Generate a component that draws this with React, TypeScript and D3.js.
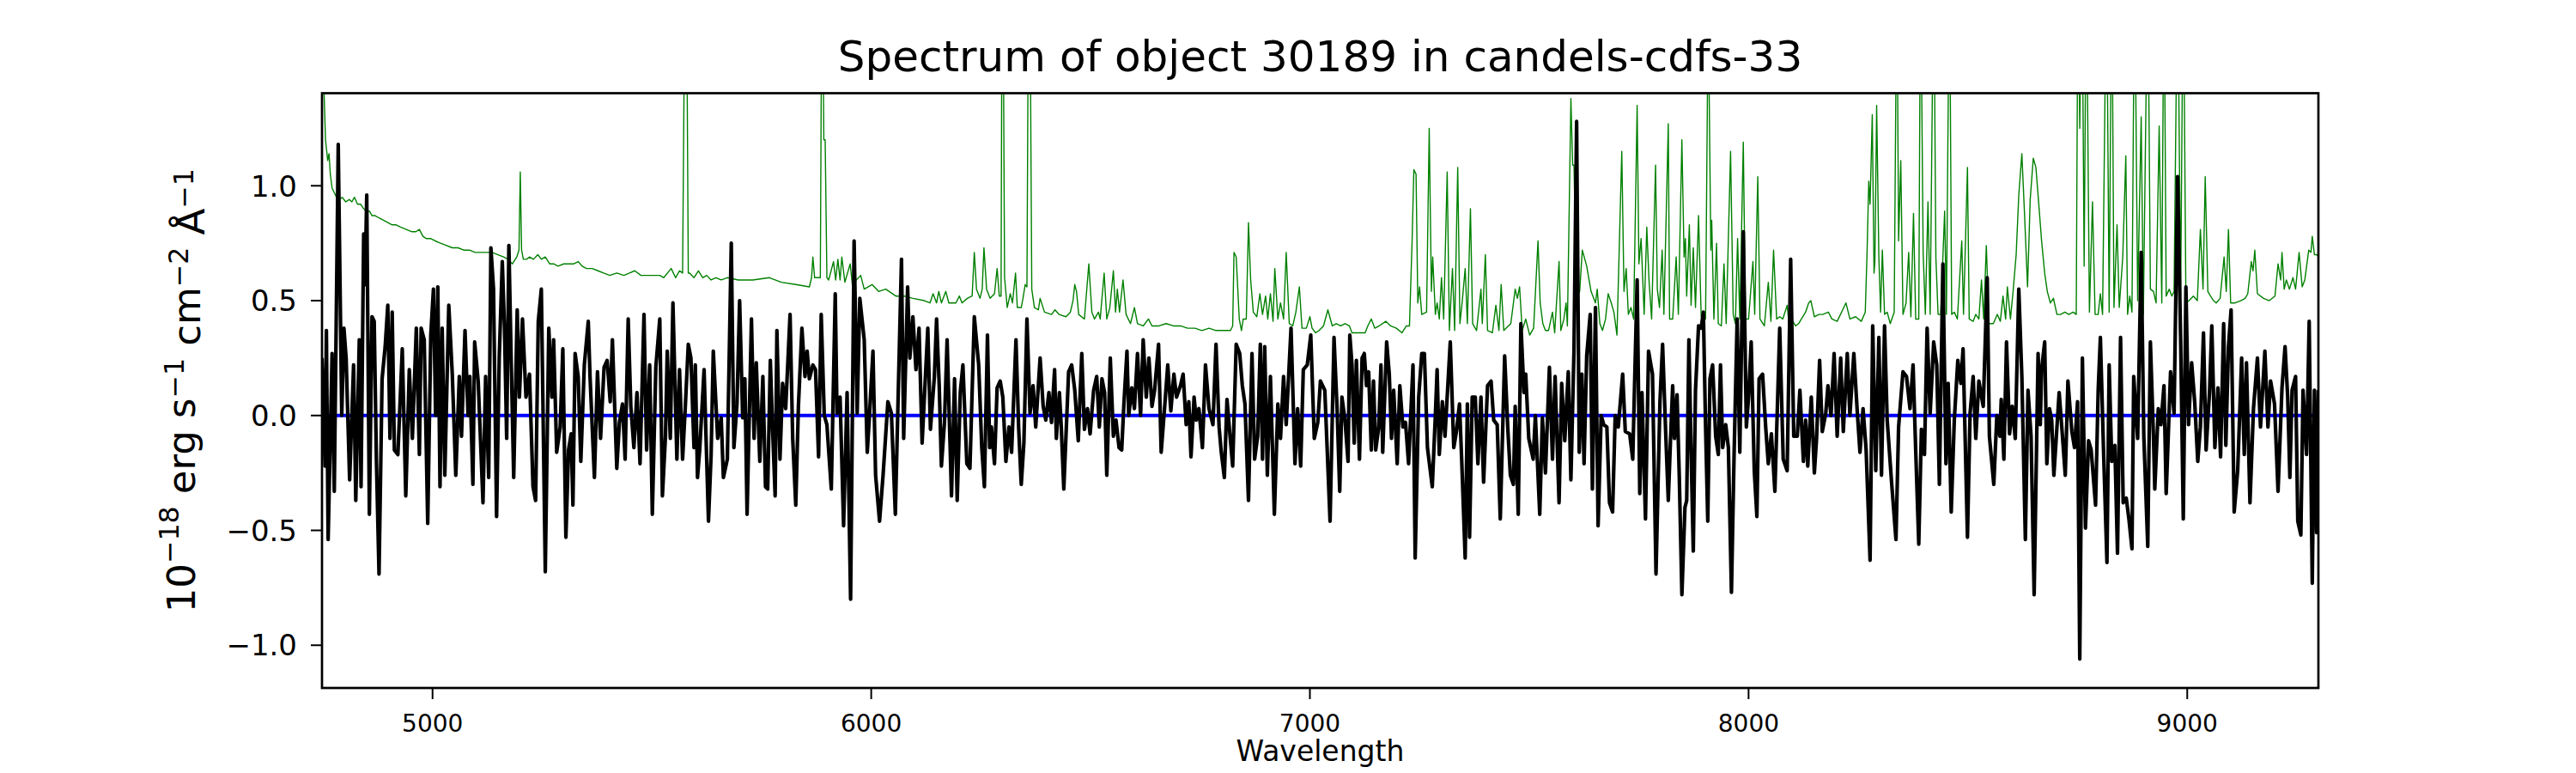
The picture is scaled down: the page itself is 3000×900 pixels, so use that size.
import * as d3 from "d3";

type Pt = [number, number];

const title = "Spectrum of object 30189 in candels-cdfs-33";
const xLabel = "Wavelength";
const xTicks = [5000, 6000, 7000, 8000, 9000];
const yTicks = [-1.0, -0.5, 0.0, 0.5, 1.0];
const xDomain = [4748, 9299];
const yDomain = [-1.186, 1.403];

// object flux, [wavelength, 1e-18 erg/s/cm2/A]
const fluxA: Pt[] = [
  [4748, 0.25], [4755, -0.22], [4758, 0.37], [4762, -0.54], [4771, 0.27], [4776, -0.33], [4785, 1.18], [4793, 0.0],
  [4798, 0.38], [4803, 0.25], [4811, -0.28], [4820, 0.22], [4825, -0.37], [4833, 0.33], [4837, -0.31], [4843, 0.79],
  [4846, 0.57], [4850, 0.96], [4856, -0.43], [4862, 0.43], [4867, 0.41], [4872, -0.19], [4878, -0.69], [4885, 0.16],
  [4892, 0.3], [4898, 0.48], [4903, -0.1], [4908, 0.45], [4913, -0.15], [4921, -0.17], [4931, 0.29], [4939, -0.35],
  [4947, 0.2], [4954, -0.1], [4963, 0.38], [4970, -0.17], [4974, 0.38], [4981, 0.33], [4989, -0.47], [4996, 0.35],
  [5002, 0.55], [5007, 0.0], [5012, 0.56], [5017, -0.31], [5022, 0.38], [5028, -0.26], [5037, 0.48], [5045, 0.18],
  [5053, -0.26], [5061, 0.17], [5066, -0.09], [5074, 0.37], [5081, 0.0], [5085, 0.17], [5092, -0.3], [5096, 0.32],
  [5104, 0.15], [5115, -0.38], [5121, 0.17], [5128, -0.27], [5133, 0.73], [5139, 0.55], [5146, -0.44], [5152, 0.25],
  [5159, 0.67], [5164, 0.38], [5169, -0.1], [5174, 0.74], [5179, 0.27], [5185, -0.27], [5193, 0.46], [5198, 0.08],
  [5205, 0.42], [5213, 0.08], [5221, 0.18], [5229, -0.31], [5235, -0.37], [5241, 0.41], [5248, 0.55], [5257, -0.68],
  [5265, 0.38], [5272, 0.08], [5276, 0.33], [5283, -0.16], [5291, -0.05], [5297, 0.29], [5304, -0.53], [5310, -0.15],
  [5316, -0.08], [5320, -0.39], [5325, 0.27], [5332, 0.17], [5338, -0.2], [5346, 0.22], [5355, 0.41], [5359, 0.17],
  [5369, -0.27], [5376, 0.19], [5383, -0.1], [5391, 0.21], [5398, 0.24], [5405, 0.06], [5410, 0.33], [5420, -0.23],
  [5426, -0.03], [5433, 0.05], [5439, -0.19], [5446, 0.42], [5452, 0.04], [5459, -0.14], [5466, 0.1], [5473, -0.21],
  [5482, 0.44], [5488, -0.15], [5495, 0.22], [5501, -0.43], [5509, 0.21], [5518, 0.42],
];

const fluxB: Pt[] = [
  [5524, -0.35], [5531, -0.09], [5535, 0.28], [5542, -0.1], [5548, 0.49], [5557, -0.19], [5563, 0.2], [5570, -0.19],
  [5576, 0.03], [5583, 0.31], [5589, 0.25], [5596, -0.14], [5599, 0.22], [5604, -0.27], [5609, -0.15], [5619, 0.2],
  [5629, -0.46], [5635, -0.17], [5640, 0.28], [5650, -0.1], [5658, -0.01], [5663, -0.27], [5672, -0.19], [5681, 0.75],
  [5687, -0.14], [5694, 0.05], [5700, 0.5], [5707, -0.01], [5712, 0.16], [5717, -0.43], [5727, 0.42], [5733, -0.1],
  [5738, 0.23], [5746, -0.2], [5753, 0.17], [5759, -0.31], [5764, -0.32], [5770, 0.24], [5775, -0.05], [5781, -0.35],
  [5785, 0.37], [5792, -0.19], [5798, 0.14], [5805, 0.03], [5815, 0.44], [5821, -0.1], [5828, -0.39], [5834, 0.04],
  [5842, 0.38], [5849, 0.17], [5854, 0.28], [5859, 0.16], [5867, 0.22], [5873, 0.2], [5880, -0.18], [5886, 0.44],
  [5893, 0.0], [5899, -0.04], [5909, -0.32], [5918, 0.53], [5922, 0.01], [5929, 0.08], [5937, -0.48], [5945, 0.1],
  [5953, -0.8], [5961, 0.76], [5968, 0.01], [5974, 0.51], [5984, 0.33], [5991, -0.16], [5996, 0.0], [6004, 0.28],
  [6010, -0.26], [6019, -0.46], [6027, -0.26], [6038, 0.06], [6046, 0.01], [6055, -0.43], [6061, 0.05], [6069, 0.68],
  [6074, -0.1], [6083, 0.56], [6088, 0.25], [6095, 0.43], [6102, 0.2], [6109, 0.38], [6116, -0.12], [6122, 0.11],
  [6129, 0.38], [6135, -0.06], [6144, 0.17], [6149, 0.42], [6155, 0.13], [6160, -0.22], [6167, -0.03], [6173, 0.33],
  [6183, -0.35], [6190, 0.16], [6196, -0.37], [6203, 0.1], [6209, 0.22], [6218, -0.21], [6225, -0.23], [6235, 0.43],
  [6245, 0.22], [6252, -0.14], [6258, -0.31],
];

const fluxC: Pt[] = [
  [6265, 0.35], [6270, -0.14], [6274, -0.05], [6281, -0.21], [6287, 0.12], [6294, 0.15], [6300, 0.08], [6307, -0.2],
  [6314, -0.05], [6320, -0.16], [6330, 0.33], [6336, -0.05], [6342, -0.3], [6348, -0.12], [6355, 0.42], [6362, 0.01],
  [6369, 0.13], [6375, -0.05], [6385, 0.25], [6392, 0.04], [6398, -0.02], [6405, 0.1], [6411, -0.03], [6418, 0.2],
  [6422, -0.1], [6429, 0.1], [6433, -0.04], [6439, -0.32], [6450, 0.19], [6457, 0.22], [6464, 0.11], [6472, -0.11],
  [6480, 0.27], [6486, -0.06], [6493, 0.03], [6499, -0.08], [6507, 0.11], [6514, 0.17], [6520, -0.05], [6526, 0.16],
  [6532, 0.1], [6537, -0.26], [6545, 0.25], [6552, -0.09], [6558, -0.02], [6565, -0.14], [6571, -0.15], [6576, 0.05],
  [6583, 0.28], [6587, 0.0], [6594, 0.12], [6600, 0.03], [6607, 0.27], [6614, 0.0], [6620, 0.33], [6627, 0.08],
  [6633, 0.25], [6640, 0.04], [6646, 0.11], [6655, 0.31], [6661, -0.16], [6669, 0.04], [6676, 0.22], [6683, 0.02],
  [6690, 0.18], [6696, 0.08], [6705, 0.13], [6711, 0.18], [6718, -0.04], [6724, 0.06], [6729, -0.18], [6736, 0.08],
  [6741, -0.02], [6747, 0.03], [6755, -0.14], [6762, 0.22], [6770, 0.03], [6779, -0.04], [6786, 0.31], [6793, -0.05],
  [6798, -0.16], [6805, -0.27], [6811, 0.07], [6818, -0.09], [6824, -0.22], [6832, 0.31], [6840, 0.27], [6846, 0.13],
  [6852, 0.05], [6860, -0.37], [6868, 0.27], [6874, -0.19], [6881, -0.09], [6887, 0.31], [6892, -0.19], [6897, 0.3],
  [6903, -0.26], [6910, 0.17], [6919, -0.43], [6927, 0.05], [6933, -0.1], [6940, 0.17], [6946, -0.04], [6957, 0.38],
  [6966, -0.21], [6972, 0.03], [6979, -0.22], [6985, 0.2], [6994, 0.22], [7002, 0.35], [7010, -0.1], [7018, -0.03],
  [7024, 0.15], [7034, 0.11],
];

const fluxD: Pt[] = [
  [7046, -0.46], [7055, 0.34], [7062, 0.03], [7068, -0.33], [7073, 0.08], [7080, -0.02], [7087, -0.2], [7091, 0.35],
  [7096, 0.22], [7101, -0.12], [7106, 0.24], [7113, -0.19], [7119, 0.25], [7124, 0.27], [7129, 0.13], [7134, 0.19],
  [7140, -0.15], [7145, 0.15], [7150, -0.15], [7157, -0.05], [7162, 0.22], [7166, -0.16], [7175, 0.32], [7181, 0.18],
  [7186, -0.1], [7191, 0.11], [7199, -0.21], [7205, 0.13], [7212, -0.05], [7218, -0.03], [7225, -0.21], [7235, 0.22],
  [7240, -0.62], [7248, 0.08], [7255, 0.27], [7261, 0.27], [7268, -0.14], [7279, -0.31], [7286, 0.0], [7290, 0.2],
  [7295, -0.17], [7302, 0.06], [7308, -0.09], [7320, 0.32], [7328, -0.14], [7334, -0.07], [7341, 0.05], [7346, -0.19],
  [7354, -0.62], [7359, 0.05], [7364, -0.53], [7370, 0.08], [7377, 0.08], [7383, -0.21], [7390, 0.08], [7396, -0.29],
  [7405, 0.13], [7413, 0.15], [7419, -0.02], [7427, -0.04], [7434, -0.45], [7444, 0.26], [7451, -0.05], [7457, -0.26],
  [7464, -0.3], [7468, 0.04], [7475, -0.43], [7481, 0.4], [7488, 0.1], [7492, 0.18], [7499, -0.1], [7509, -0.19],
  [7514, 0.0], [7524, -0.43], [7530, -0.01], [7537, -0.25], [7546, 0.21], [7553, -0.19], [7559, 0.17], [7568, -0.38],
  [7574, 0.14], [7581, -0.11], [7589, 0.19], [7595, -0.28], [7602, 0.28], [7608, 1.28], [7614, -0.16], [7620, 0.18],
  [7625, -0.21], [7631, 0.26], [7639, 0.44], [7644, -0.32], [7651, 0.47], [7657, -0.48], [7664, 0.0], [7670, -0.04],
  [7677, -0.05], [7683, -0.38], [7690, -0.42], [7696, 0.0], [7703, -0.05], [7713, 0.18], [7719, -0.07], [7729, -0.08],
  [7736, -0.19], [7746, 0.59], [7752, -0.34], [7757, 0.1], [7765, -0.45], [7772, 0.28], [7781, 0.18], [7789, -0.69],
];

const fluxE: Pt[] = [
  [7798, 0.06], [7804, 0.31], [7811, -0.07], [7817, -0.37], [7822, -0.11], [7827, 0.13], [7831, -0.1], [7837, 0.09],
  [7842, -0.26], [7848, -0.78], [7855, -0.4], [7859, -0.37], [7864, 0.33], [7869, -0.16], [7874, -0.59], [7879, 0.11],
  [7886, 0.39], [7892, 0.38], [7897, 0.45], [7902, -0.05], [7907, -0.46], [7912, 0.16], [7918, 0.22], [7925, -0.09],
  [7931, -0.17], [7936, 0.22], [7941, -0.14], [7948, -0.04], [7954, -0.14], [7961, -0.77], [7967, -0.17], [7974, 0.42],
  [7980, -0.16], [7988, 0.8], [7995, -0.05], [8000, 0.08], [8006, 0.32], [8013, -0.24], [8019, -0.44], [8024, 0.16],
  [8032, 0.18], [8039, -0.05], [8045, -0.21], [8052, -0.08], [8060, -0.33], [8071, 0.38], [8079, -0.19], [8088, -0.24],
  [8096, 0.68], [8103, -0.09], [8111, -0.09], [8117, 0.11], [8125, -0.2], [8130, -0.02], [8135, -0.22], [8143, 0.08],
  [8150, -0.25], [8155, -0.1], [8162, 0.24], [8168, -0.07], [8176, 0.01], [8181, 0.13], [8188, 0.0], [8195, 0.27],
  [8202, -0.09], [8210, 0.25], [8216, -0.07], [8225, 0.27], [8231, 0.0], [8240, 0.27], [8248, 0.01], [8254, -0.16],
  [8261, 0.03], [8268, -0.15], [8277, -0.63], [8283, 0.39], [8290, -0.24], [8297, 0.34], [8303, -0.26], [8310, 0.39],
  [8316, -0.02], [8326, -0.29], [8336, -0.54], [8342, -0.05], [8352, 0.19], [8360, 0.17], [8368, 0.03], [8375, 0.22],
  [8381, -0.15], [8388, -0.56], [8394, -0.06], [8401, -0.17], [8407, 0.38], [8414, 0.01], [8422, 0.32], [8429, 0.22],
  [8435, -0.3], [8443, 0.66], [8450, -0.21], [8455, 0.14], [8462, -0.42], [8469, -0.02], [8477, 0.24], [8484, 0.14],
  [8489, 0.29], [8499, -0.53], [8505, 0.01], [8512, 0.17], [8518, -0.1], [8525, 0.15], [8535, 0.04],
];

const fluxF: Pt[] = [
  [8544, 0.6], [8549, -0.09], [8559, -0.3], [8566, 0.0], [8573, -0.09], [8576, 0.07], [8582, -0.19], [8588, 0.32],
  [8595, -0.08], [8601, 0.04], [8608, -0.1], [8616, 0.55], [8623, 0.17], [8631, -0.54], [8637, 0.11], [8644, -0.09],
  [8651, -0.78], [8660, 0.27], [8665, -0.04], [8668, 0.2], [8675, 0.32], [8680, -0.21], [8686, 0.03], [8691, -0.02],
  [8696, -0.26], [8703, -0.05], [8708, 0.1], [8714, -0.05], [8722, -0.26], [8728, 0.15], [8737, -0.07], [8743, -0.14],
  [8750, 0.06], [8755, -1.06], [8761, 0.25], [8768, -0.49], [8775, -0.11], [8781, -0.15], [8791, -0.39], [8797, 0.11],
  [8802, 0.34], [8809, -0.14], [8817, -0.64], [8822, 0.22], [8828, -0.2], [8835, -0.13], [8841, -0.6], [8848, 0.34],
  [8854, -0.38], [8861, -0.36], [8867, -0.45], [8874, -0.58], [8878, 0.17], [8887, -0.1], [8895, 0.71], [8901, -0.09],
  [8910, -0.57], [8916, 0.32], [8923, -0.09], [8926, -0.32], [8934, 0.03], [8940, -0.04], [8947, 0.13], [8952, -0.34],
  [8962, 0.19], [8970, 0.01], [8978, 1.04], [8985, 0.33], [8991, -0.45], [8997, 0.56], [9003, -0.04], [9010, 0.23],
  [9017, 0.06], [9024, -0.2], [9030, -0.05], [9037, 0.36], [9043, -0.15], [9051, 0.11], [9056, 0.39], [9063, -0.14],
  [9070, 0.12], [9076, -0.18], [9083, 0.4], [9088, -0.13], [9094, 0.3], [9100, 0.46], [9107, -0.42], [9115, -0.24],
  [9124, 0.25], [9130, -0.17], [9135, 0.23], [9143, -0.38], [9151, 0.03], [9160, 0.25], [9167, -0.05], [9177, 0.28],
  [9184, -0.05], [9190, 0.15], [9199, 0.05], [9207, -0.33], [9216, 0.12], [9223, 0.3], [9229, 0.08], [9234, -0.27],
  [9239, 0.11], [9247, 0.17], [9252, -0.46], [9259, -0.52], [9264, 0.11], [9272, -0.17], [9278, 0.41], [9285, -0.73],
  [9290, 0.11], [9295, -0.51], [9299, 0.11],
];

// noise / sky spectrum, same units
const noiseA: Pt[] = [
  [4749, 1.7], [4752, 1.45], [4756, 1.2], [4761, 1.11], [4764, 1.14], [4767, 1.05], [4771, 0.99], [4781, 0.95],
  [4788, 0.94], [4794, 0.95], [4802, 0.93], [4810, 0.94], [4816, 0.93], [4822, 0.95], [4829, 0.92], [4836, 0.92],
  [4843, 0.9], [4849, 0.89], [4856, 0.89], [4862, 0.87], [4869, 0.87], [4878, 0.86], [4888, 0.85], [4898, 0.84],
  [4908, 0.83], [4917, 0.83], [4927, 0.82], [4940, 0.81], [4953, 0.8], [4962, 0.8], [4970, 0.81], [4978, 0.78],
  [4986, 0.77], [4996, 0.77], [5006, 0.76], [5018, 0.75], [5032, 0.74], [5045, 0.73], [5058, 0.73], [5071, 0.72],
  [5084, 0.72], [5097, 0.71], [5110, 0.71], [5123, 0.71], [5136, 0.71], [5149, 0.7], [5162, 0.69], [5172, 0.68],
  [5182, 0.66], [5192, 0.69], [5197, 0.72], [5200, 1.06], [5203, 0.72], [5207, 0.68], [5214, 0.68], [5221, 0.69],
  [5230, 0.68], [5240, 0.7], [5248, 0.68], [5257, 0.69], [5267, 0.66], [5276, 0.66], [5286, 0.65], [5299, 0.66],
  [5312, 0.66], [5322, 0.66], [5332, 0.67], [5341, 0.65], [5351, 0.64], [5364, 0.64], [5377, 0.63], [5390, 0.62],
  [5404, 0.61], [5420, 0.62], [5436, 0.61], [5449, 0.62], [5461, 0.63], [5475, 0.61], [5488, 0.61], [5503, 0.61],
  [5518, 0.61],
];

const noiseB: Pt[] = [
  [5527, 0.6], [5544, 0.64], [5554, 0.6], [5563, 0.63], [5570, 0.62], [5574, 1.6], [5577, 3.0], [5580, 1.6],
  [5583, 0.62], [5586, 0.62], [5596, 0.6], [5606, 0.63], [5616, 0.6], [5625, 0.61], [5635, 0.59], [5646, 0.6],
  [5658, 0.59], [5672, 0.6], [5697, 0.59], [5730, 0.59], [5768, 0.6], [5795, 0.58], [5828, 0.57], [5859, 0.56],
  [5864, 0.6], [5867, 0.69], [5871, 0.6], [5877, 0.6], [5884, 0.6], [5888, 2.2], [5892, 1.2], [5895, 1.2],
  [5899, 0.6], [5903, 0.59], [5914, 0.67], [5919, 0.59], [5924, 0.68], [5929, 0.59], [5933, 0.69], [5940, 0.58],
  [5952, 0.66], [5957, 0.57], [5966, 0.59], [5976, 0.61], [5984, 0.55], [6002, 0.57], [6017, 0.54], [6033, 0.55],
  [6056, 0.52], [6075, 0.52], [6095, 0.51], [6121, 0.5], [6134, 0.49], [6141, 0.53], [6149, 0.49], [6154, 0.54],
  [6160, 0.49], [6170, 0.54], [6177, 0.49], [6193, 0.49], [6201, 0.52], [6207, 0.49], [6219, 0.51], [6230, 0.52],
  [6235, 0.71], [6240, 0.55], [6248, 0.51], [6253, 0.55], [6257, 0.73], [6263, 0.55], [6271, 0.51], [6281, 0.53],
];

const noiseC: Pt[] = [
  [6287, 0.64], [6292, 0.52], [6296, 0.52], [6299, 2.5], [6304, 0.6], [6310, 0.47], [6317, 0.53], [6322, 0.49],
  [6329, 0.62], [6333, 0.47], [6342, 0.47], [6346, 0.51], [6351, 0.57], [6355, 0.56], [6360, 2.5], [6366, 0.55],
  [6372, 0.47], [6381, 0.46], [6385, 0.51], [6395, 0.45], [6411, 0.44], [6419, 0.46], [6428, 0.44], [6444, 0.43],
  [6454, 0.45], [6460, 0.5], [6464, 0.57], [6468, 0.54], [6473, 0.44], [6486, 0.42], [6496, 0.66], [6503, 0.45],
  [6509, 0.42], [6518, 0.45], [6522, 0.42], [6531, 0.62], [6537, 0.42], [6544, 0.47], [6552, 0.63], [6557, 0.45],
  [6561, 0.55], [6566, 0.45], [6574, 0.59], [6581, 0.44], [6591, 0.4], [6600, 0.47], [6607, 0.4], [6620, 0.39],
  [6632, 0.42], [6640, 0.39], [6656, 0.39], [6672, 0.4], [6689, 0.39], [6705, 0.39], [6721, 0.38], [6738, 0.38],
  [6754, 0.37], [6770, 0.38], [6786, 0.37], [6802, 0.37], [6819, 0.37], [6824, 0.39], [6827, 0.71], [6832, 0.69],
  [6839, 0.42], [6844, 0.37], [6848, 0.42], [6855, 0.42], [6860, 0.84], [6865, 0.59], [6871, 0.45], [6879, 0.43],
  [6886, 0.53], [6892, 0.44], [6899, 0.52], [6904, 0.42], [6910, 0.53], [6916, 0.41], [6920, 0.64], [6927, 0.42],
  [6933, 0.49], [6940, 0.42], [6946, 0.71], [6953, 0.4], [6961, 0.39], [6968, 0.45], [6976, 0.56], [6982, 0.38],
  [6992, 0.38], [7000, 0.43], [7005, 0.38], [7013, 0.36], [7021, 0.37], [7031, 0.39], [7041, 0.46],
];

const noiseD: Pt[] = [
  [7051, 0.39], [7060, 0.4], [7070, 0.39], [7080, 0.4], [7090, 0.39], [7096, 0.36], [7111, 0.36], [7126, 0.36],
  [7132, 0.39], [7140, 0.42], [7148, 0.38], [7158, 0.39], [7173, 0.41], [7184, 0.39], [7197, 0.38], [7210, 0.36],
  [7220, 0.39], [7227, 0.39], [7233, 0.76], [7237, 1.07], [7242, 1.05], [7246, 0.49], [7250, 0.56], [7255, 0.44],
  [7266, 0.45], [7272, 1.25], [7277, 0.54], [7280, 0.69], [7286, 0.44], [7290, 0.49], [7295, 0.42], [7300, 0.6],
  [7305, 0.42], [7313, 1.06], [7318, 0.37], [7325, 0.64], [7330, 0.37], [7337, 1.08], [7342, 0.4], [7347, 0.49],
  [7354, 0.64], [7359, 0.4], [7366, 0.9], [7371, 0.4], [7380, 0.37], [7390, 0.55], [7393, 0.4], [7400, 0.7],
  [7405, 0.37], [7416, 0.36], [7424, 0.48], [7431, 0.37], [7436, 0.57], [7442, 0.37], [7458, 0.4], [7468, 0.55],
  [7473, 0.51], [7478, 0.56], [7484, 0.37], [7492, 0.42], [7501, 0.35], [7510, 0.38], [7520, 0.76], [7525, 0.49],
  [7531, 0.4], [7537, 0.37], [7544, 0.37], [7553, 0.45], [7558, 0.36], [7568, 0.67], [7572, 0.37], [7579, 0.42],
  [7584, 0.49], [7587, 0.39], [7595, 1.38], [7599, 1.09], [7602, 1.09], [7608, 0.52], [7615, 0.54], [7621, 0.72],
  [7631, 0.65], [7641, 0.54], [7651, 0.49], [7655, 0.55], [7661, 0.4], [7667, 0.37], [7674, 0.42], [7680, 0.53],
  [7687, 0.49], [7693, 0.45], [7700, 0.35], [7711, 1.15], [7716, 0.54], [7721, 0.64], [7726, 0.44], [7732, 0.47],
  [7738, 0.42], [7746, 1.35], [7750, 0.66], [7755, 0.77], [7762, 0.44], [7768, 0.82], [7773, 0.59], [7779, 0.42],
  [7788, 1.09], [7792, 0.55], [7797, 0.47], [7803, 0.72], [7807, 0.44],
];

const noiseE: Pt[] = [
  [7817, 1.27], [7820, 0.42], [7827, 0.42], [7835, 0.69], [7840, 0.44], [7848, 1.2], [7853, 0.69], [7856, 0.77],
  [7859, 0.52], [7865, 0.83], [7869, 0.48], [7874, 0.73], [7879, 0.47], [7886, 0.87], [7892, 0.43], [7902, 0.42],
  [7908, 1.8], [7914, 0.72], [7916, 0.85], [7921, 0.42], [7927, 0.75], [7931, 0.4], [7938, 0.39], [7944, 0.66],
  [7949, 0.4], [7959, 1.15], [7965, 0.44], [7970, 0.4], [7975, 0.77], [7980, 0.42], [7988, 1.19], [7993, 0.42],
  [8000, 0.42], [8010, 0.67], [8014, 0.44], [8021, 1.04], [8026, 0.42], [8036, 0.39], [8045, 0.58], [8051, 0.41],
  [8057, 0.72], [8064, 0.42], [8071, 0.43], [8078, 0.42], [8088, 0.48], [8092, 0.4], [8098, 0.42], [8107, 0.39],
  [8114, 0.4], [8130, 0.45], [8137, 0.49], [8142, 0.5], [8150, 0.43], [8160, 0.44], [8169, 0.44], [8182, 0.45],
  [8190, 0.42], [8202, 0.41], [8222, 0.49], [8231, 0.42], [8244, 0.43], [8257, 0.41], [8266, 0.45], [8270, 0.7],
  [8274, 1.02], [8277, 0.92], [8282, 1.31], [8286, 0.62], [8288, 0.67], [8292, 1.35], [8297, 0.69], [8301, 0.45],
  [8305, 0.72], [8310, 0.44], [8316, 0.45], [8323, 0.4], [8332, 0.45], [8338, 2.0], [8342, 0.76], [8347, 1.11],
  [8352, 0.44], [8359, 0.49], [8365, 0.71], [8370, 0.43], [8376, 0.88], [8381, 0.42], [8388, 0.42], [8392, 2.0],
  [8398, 0.71], [8403, 0.44], [8409, 0.93], [8414, 0.44], [8422, 2.0], [8427, 0.69], [8432, 0.44], [8438, 0.44],
  [8447, 0.89], [8451, 0.44], [8458, 2.0], [8463, 0.44], [8469, 0.45], [8476, 0.42], [8486, 0.76], [8490, 0.44],
  [8499, 1.08], [8503, 0.42], [8512, 0.41], [8518, 0.44], [8525, 0.42], [8531, 0.59], [8536, 0.42],
];

const noiseF: Pt[] = [
  [8542, 0.74], [8548, 0.4], [8558, 0.4], [8567, 0.44], [8574, 0.41], [8580, 0.52], [8586, 0.42], [8590, 0.56],
  [8597, 0.42], [8603, 0.54], [8610, 0.7], [8616, 0.96], [8623, 1.14], [8629, 0.88], [8636, 0.56], [8642, 0.94],
  [8649, 1.12], [8655, 1.08], [8662, 0.91], [8668, 0.76], [8675, 0.62], [8681, 0.54], [8688, 0.49], [8695, 0.51],
  [8703, 0.44], [8711, 0.44], [8721, 0.45], [8730, 0.44], [8740, 0.45], [8747, 0.44], [8751, 2.0], [8755, 1.25],
  [8760, 2.0], [8765, 0.65], [8770, 2.0], [8777, 0.45], [8784, 0.93], [8790, 0.44], [8797, 0.44], [8802, 0.53],
  [8807, 0.44], [8816, 2.0], [8822, 0.45], [8828, 2.0], [8833, 0.47], [8840, 0.83], [8845, 0.47], [8853, 0.69],
  [8860, 1.13], [8864, 0.44], [8869, 0.52], [8874, 0.45], [8880, 2.0], [8887, 0.5], [8895, 1.3], [8900, 0.44],
  [8910, 2.0], [8916, 0.55], [8923, 0.54], [8929, 0.49], [8936, 1.26], [8942, 0.49], [8947, 2.0], [8952, 0.52],
  [8959, 0.55], [8965, 0.52], [8970, 0.54], [8978, 2.0], [8985, 0.52], [8991, 2.0], [8997, 0.49], [9004, 0.5],
  [9014, 0.52], [9023, 0.5], [9030, 0.81], [9036, 0.55], [9041, 1.04], [9047, 0.54], [9053, 0.52], [9060, 0.5],
  [9066, 0.49], [9075, 0.51], [9084, 0.69], [9089, 0.54], [9094, 0.81], [9099, 0.49], [9109, 0.49], [9122, 0.5],
  [9132, 0.51], [9138, 0.53], [9146, 0.67], [9150, 0.63], [9154, 0.72], [9160, 0.53], [9174, 0.51], [9187, 0.5],
  [9200, 0.52], [9207, 0.66], [9213, 0.59], [9216, 0.71], [9221, 0.55], [9226, 0.59], [9233, 0.55], [9241, 0.6],
  [9247, 0.55], [9255, 0.71], [9262, 0.56], [9268, 0.59], [9277, 0.72], [9282, 0.71], [9285, 0.78], [9290, 0.7],
  [9295, 0.7], [9300, 0.69],
];

const flux = [...fluxA, ...fluxB, ...fluxC, ...fluxD, ...fluxE, ...fluxF];
const noise = [...noiseA, ...noiseB, ...noiseC, ...noiseD, ...noiseE, ...noiseF];

const font = "DejaVu Sans, sans-serif";

export default function App() {
  const width = 3000;
  const height = 900;
  const margin = { left: 375, right: 2700, top: 108.5, bottom: 801 };

  const x = d3.scaleLinear().domain(xDomain).range([margin.left, margin.right]);
  const y = d3.scaleLinear().domain(yDomain).range([margin.bottom, margin.top]);
  const line = d3.line<Pt>().x(d => x(d[0])).y(d => y(d[1]));

  const midX = (margin.left + margin.right) / 2;
  const midY = (margin.top + margin.bottom) / 2;
  const tick = 13;
  const sup = { fontSize: "0.7em" };

  return (
    <svg width={width} height={height} style={{ position: "absolute", left: 0, top: 0, background: "#fff" }}
      fontFamily={font}>
      <defs>
        <clipPath id="plot-area">
          <rect x={margin.left} y={margin.top} width={margin.right - margin.left} height={margin.bottom - margin.top} />
        </clipPath>
      </defs>

      <g clipPath="url(#plot-area)">
        <path d={line(noise) ?? ""} fill="none" stroke="#008000" strokeWidth={1.4} strokeLinejoin="round" />
        <line x1={margin.left} x2={margin.right} y1={y(0)} y2={y(0)} stroke="#0000ff" strokeWidth={4} />
        <path d={line(flux) ?? ""} fill="none" stroke="#000" strokeWidth={4.2} strokeLinejoin="round" />
      </g>

      <rect x={margin.left} y={margin.top} width={margin.right - margin.left} height={margin.bottom - margin.top}
        fill="none" stroke="#000" strokeWidth={2.7} />

      {xTicks.map(t => (
        <g key={t} transform={`translate(${x(t)},${margin.bottom})`}>
          <line y1={0} y2={tick} stroke="#000" strokeWidth={2} />
          <text y={51} textAnchor="middle" fontSize={28}>{t}</text>
        </g>
      ))}

      {yTicks.map(t => (
        <g key={t} transform={`translate(${margin.left},${y(t)})`}>
          <line x1={0} x2={-tick} stroke="#000" strokeWidth={2} />
          <text x={-29} dy="0.36em" textAnchor="end" fontSize={34}>{d3.format(".1f")(t).replace("-", "\u2212")}</text>
        </g>
      ))}

      <text x={midX} y={83} textAnchor="middle" fontSize={50}>{title}</text>
      <text x={midX} y={886} textAnchor="middle" fontSize={33}>{xLabel}</text>

      <text transform={`translate(227,${midY}) rotate(-90)`} textAnchor="middle" fontSize={45}>
        10<tspan style={sup} dy="-0.6em">{"\u221218"}</tspan>
        <tspan dy="0.42em"> erg s</tspan><tspan style={sup} dy="-0.42em">{"\u22121"}</tspan>
        <tspan dy="0.42em"> cm</tspan><tspan style={sup} dy="-0.42em">{"\u22122"}</tspan>
        <tspan dy="0.42em"> Å</tspan><tspan style={sup} dy="-0.42em">{"\u22121"}</tspan>
      </text>
    </svg>
  );
}
